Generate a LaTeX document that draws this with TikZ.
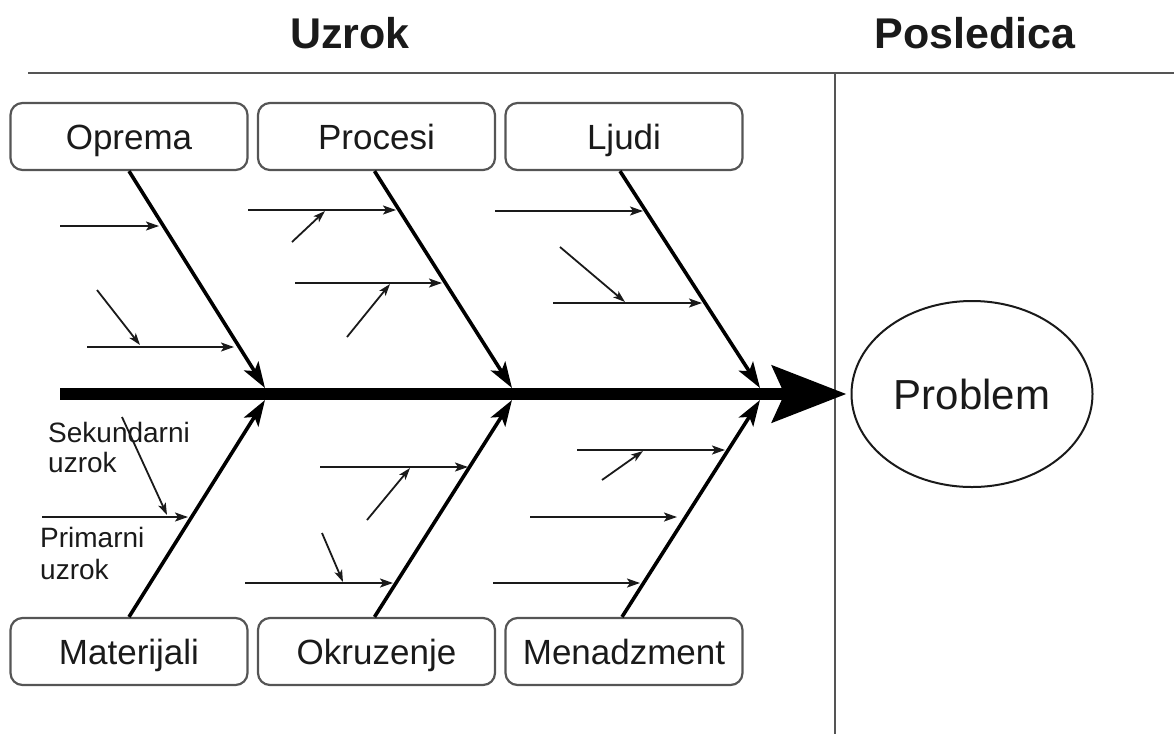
\documentclass[tikz,border=0pt]{standalone}
\usepackage{fontspec}
\setmainfont{Liberation Sans}
\usetikzlibrary{arrows.meta,shapes.geometric,calc}
\definecolor{ink}{HTML}{1A1A1A}
\definecolor{frame}{HTML}{555555}
\begin{document}
\begin{tikzpicture}[x=1pt,y=-1pt,
  catbox/.style={draw=frame, line width=2.2pt, rounded corners=12pt, minimum width=237pt, minimum height=67pt, inner sep=0pt, text height=25pt, text depth=0pt, font=\fontsize{35}{40}\selectfont, text=ink},
  header/.style={font=\bfseries\fontsize{43}{48}\selectfont, text=ink, anchor=base, inner sep=0pt},
  smalllab/.style={font=\fontsize{28}{32}\selectfont, text=ink, anchor=base west, inner sep=0pt},
  rule/.style={draw=frame, line width=2.5pt},
  bone/.style={draw=black, line width=3.6pt, -{Stealth[length=26pt,width=17pt,inset=6pt]}},
  prim/.style={draw=ink, line width=2pt, -{Stealth[length=13pt,width=9pt,inset=3pt]}},
  sec/.style={draw=ink, line width=1.8pt, -{Stealth[length=12pt,width=8pt,inset=3pt]}},
  spine/.style={draw=black, line width=12pt, -{Stealth[length=74pt,width=56pt,inset=12pt]}}
]
\useasboundingbox (0,0) rectangle (1174,734);

% headers and frame lines
\node[header] (uzrok) at (350,48) {Uzrok};
\node[header] (posl) at (975,48) {Posledica};
\coordinate (hl) at (28,73);
\coordinate (hr) at (1174,73);
\coordinate (vt) at (835,73);
\coordinate (vb) at (835,734);
\draw[rule] (hl) -- (hr);
\draw[rule] (vt) -- (vb);

% category boxes
\node[catbox] (oprema) at (129,136.5) {Oprema};
\node[catbox] (procesi) at (376.5,136.5) {Procesi};
\node[catbox] (ljudi) at (624,136.5) {Ljudi};
\node[catbox] (materijali) at (129,651.5) {Materijali};
\node[catbox] (okruzenje) at (376.5,651.5) {Okruzenje};
\node[catbox] (menadzment) at (624,651.5) {Menadzment};

% problem
\node[ellipse, draw=ink, line width=2pt, minimum width=241pt, minimum height=186pt, inner sep=0pt,
      text height=30pt, text depth=0pt,
      font=\fontsize{42}{48}\selectfont, text=ink] (problem) at (972,394) {Problem};

% spine
\coordinate (spS) at (60,394);
\draw[spine] (spS) -- ([xshift=-4pt]problem.west);

% junctions
\coordinate (t1) at (265,388);
\coordinate (t2) at (512,388);
\coordinate (t3) at (760,388);
\coordinate (b1) at (265,400);
\coordinate (b2) at (512,400);
\coordinate (b3) at (760,400);

% main bones
\draw[bone] (oprema.south) -- (t1);
\draw[bone] ([xshift=-2pt]procesi.south) -- (t2);
\draw[bone] ([xshift=-4pt]ljudi.south) -- (t3);
\draw[bone] (materijali.north) -- (b1);
\draw[bone] ([xshift=-2pt]okruzenje.north) -- (b2);
\draw[bone] ([xshift=-2pt]menadzment.north) -- (b3);

% Oprema causes
\draw[prim] (60,226) coordinate (o1s) -- (159,226) coordinate (o1e);
\draw[prim] (87,347) coordinate (o2s) -- (234,347) coordinate (o2e);
\draw[sec] (97,290) coordinate (o2as) -- (140,345) coordinate (o2ae);

% Procesi causes
\draw[prim] (248,210) coordinate (p1s) -- (396,210) coordinate (p1e);
\draw[sec] (292,242) coordinate (p1as) -- (325,211) coordinate (p1ae);
\draw[prim] (295,283) coordinate (p2s) -- (442,283) coordinate (p2e);
\draw[sec] (347,337) coordinate (p2as) -- (390,284) coordinate (p2ae);

% Ljudi causes
\draw[prim] (495,211) coordinate (l1s) -- (643,211) coordinate (l1e);
\draw[prim] (553,303) coordinate (l2s) -- (702,303) coordinate (l2e);
\draw[sec] (560,247) coordinate (l2as) -- (625,302) coordinate (l2ae);

% Materijali causes
\draw[prim] (42,517) coordinate (m1s) -- (188,517) coordinate (m1e);
\draw[sec] (122,417) coordinate (m1as) -- (167,515) coordinate (m1ae);

% Okruzenje causes
\draw[prim] (320,467) coordinate (k1s) -- (468,467) coordinate (k1e);
\draw[sec] (367,520) coordinate (k1as) -- (410,468) coordinate (k1ae);
\draw[prim] (245,583) coordinate (k2s) -- (393,583) coordinate (k2e);
\draw[sec] (322,533) coordinate (k2as) -- (343,582) coordinate (k2ae);

% Menadzment causes
\draw[prim] (577,450) coordinate (n1s) -- (725,450) coordinate (n1e);
\draw[sec] (602,480) coordinate (n1as) -- (643,451) coordinate (n1ae);
\draw[prim] (530,517) coordinate (n2s) -- (677,517) coordinate (n2e);
\draw[prim] (493,583) coordinate (n3s) -- (640,583) coordinate (n3e);

% legend labels
\node[smalllab] (sek1) at (48,442) {Sekundarni};
\node[smalllab] (sek2) at (48,472) {uzrok};
\node[smalllab] (pri1) at (40,547) {Primarni};
\node[smalllab] (pri2) at (40,579) {uzrok};
\end{tikzpicture}
\end{document}
